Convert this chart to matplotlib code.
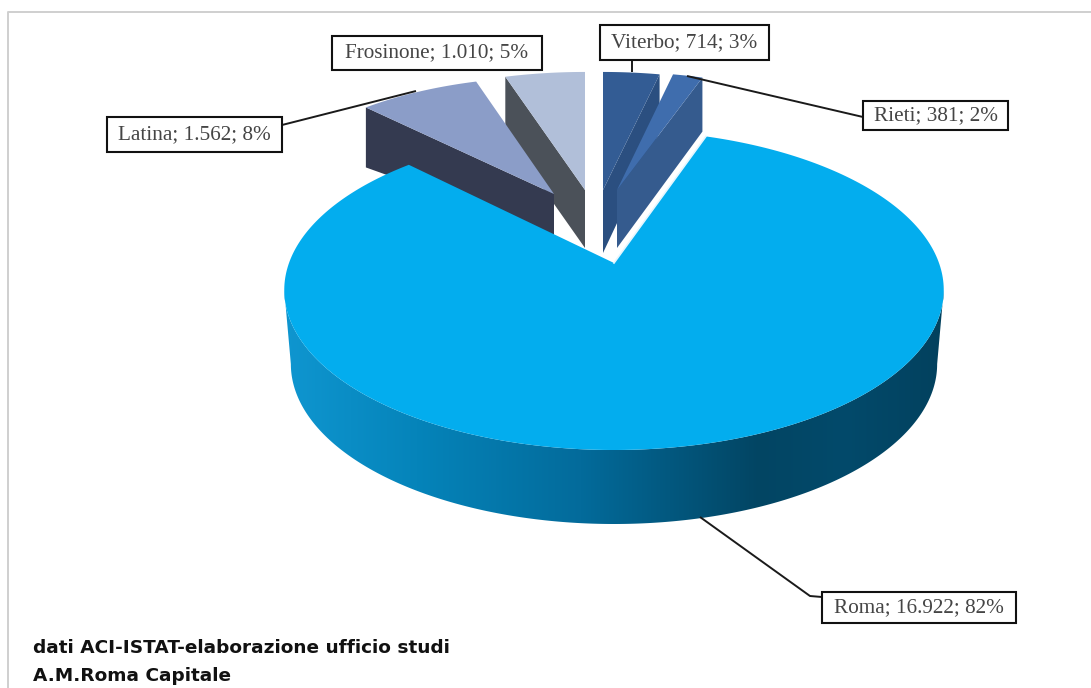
import numpy as np
import matplotlib
matplotlib.use('Agg')
import matplotlib.pyplot as plt
from matplotlib.colors import LinearSegmentedColormap
from matplotlib.patches import Polygon, Rectangle

# dati del grafico
province = ['Viterbo', 'Rieti', 'Roma', 'Latina', 'Frosinone']
valori = [714, 381, 16922, 1562, 1010]
fonte = ['dati ACI-ISTAT-elaborazione ufficio studi', 'A.M.Roma Capitale']

# aspetto delle fette: vertice, semiassi, spessore, colori
vertici = {'Viterbo': (603, 190), 'Rieti': (617, 190), 'Roma': (614, 263),
           'Latina': (554, 194), 'Frosinone': (585, 190)}
semiassi = {'Viterbo': (305, 138), 'Rieti': (302, 138), 'Roma': (325, 155.4),
            'Latina': (298, 137), 'Frosinone': (305, 138)}
spessore = {'Viterbo': 58, 'Rieti': 54, 'Roma': 74, 'Latina': 60, 'Frosinone': 58}
spessore_vertice = {'Viterbo': 63, 'Rieti': 58, 'Latina': 41, 'Frosinone': 58}
col_sopra = {'Viterbo': '#335c94', 'Rieti': '#3f6dad', 'Roma': '#03adee',
             'Latina': '#8b9dc8', 'Frosinone': '#b1bfd9'}
col_lato = {'Viterbo': '#2b4f80', 'Rieti': '#355b8e', 'Latina': '#343a50',
            'Frosinone': '#4b5159'}
K = 0.169  # prospettiva

# angoli delle fette, in senso orario dall'alto
totale = sum(valori)
angoli = {}
a = 0.0
for nome, v in zip(province, valori):
    angoli[nome] = (a, a + 360.0 * v / totale)
    a += 360.0 * v / totale


def punto(nome, gradi, dy=0.0, scala=1.0):
    t = np.radians(gradi)
    d = 1 + K * np.cos(t)
    cx, cy = vertici[nome]
    ra, rb = semiassi[nome]
    return cx + scala * ra * np.sin(t) / d, cy + dy - rb * np.cos(t) / d


def arco(nome):
    a0, a1 = angoli[nome]
    return punto(nome, np.linspace(a0, a1, 300))


def etichetta(nome):
    v = valori[province.index(nome)]
    return '%s; %s; %d%%' % (nome, f'{v:,}'.replace(',', '.'), round(100 * v / totale))


fig = plt.figure(figsize=(10.91, 6.88), dpi=100)
ax = fig.add_axes([0, 0, 1, 1])
ax.set_xlim(0, 1091)
ax.set_ylim(688, 0)
ax.axis('off')

# cornice: solo sopra e a sinistra
ax.plot([8, 8, 1091], [688, 12, 12], color='#cfcfcf', lw=1.4, zorder=1)

# fette piccole: prima il lato tagliato, poi la faccia superiore
lato_visibile = {'Viterbo': 1, 'Rieti': 1, 'Latina': 0, 'Frosinone': 0}
for z, nome in enumerate(['Frosinone', 'Latina', 'Viterbo', 'Rieti']):
    x, y = arco(nome)
    cx, cy = vertici[nome]
    i = -1 if lato_visibile[nome] else 0
    ax.add_patch(Polygon([(x[i], y[i]), (cx, cy), (cx, cy + spessore_vertice[nome]),
                          (x[i], y[i] + spessore[nome])],
                         fc=col_lato[nome], ec='none', zorder=2 + z))
    ax.add_patch(Polygon(np.r_[np.c_[x, y], [[cx, cy]]], fc=col_sopra[nome], ec='none',
                         zorder=2 + z))

# bordo della fetta grande con sfumatura: solo la meta' davanti
davanti = np.linspace(np.degrees(np.arccos(-K)), 360 - np.degrees(np.arccos(-K)), 300)
xa, ya = punto('Roma', davanti)
xb, yb = punto('Roma', davanti, spessore['Roma'], 0.98)
bordo = Polygon(np.r_[np.c_[xa, ya], np.c_[xb, yb][::-1]], fc='none', ec='none', zorder=7)
ax.add_patch(bordo)
sfumatura = LinearSegmentedColormap.from_list('bordo', [
    (0.0, '#0f96d0'), (0.2, '#0584ba'), (0.45, '#036b9b'), (0.72, '#024563'),
    (0.85, '#034a6b'), (1.0, '#02415e')])
im = ax.imshow(np.linspace(0, 1, 256)[None, :], extent=(284, 944, 688, 0), aspect='auto',
               cmap=sfumatura, zorder=7)
im.set_clip_path(bordo)
ax.set_xlim(0, 1091)
ax.set_ylim(688, 0)

# faccia superiore di Roma
x, y = arco('Roma')
cx, cy = vertici['Roma']
ax.add_patch(Polygon(np.r_[np.c_[x, y], [[cx, cy]]], fc=col_sopra['Roma'], ec='none', zorder=8))
ax.plot([cx, x[0]], [cy, y[0]], color='#e4f6ff', lw=1.2, zorder=8.5)

# linee guida
linee = [([632, 632], [60, 72]),
         ([687, 863], [76, 117]),
         ([282, 416], [125, 91]),
         ([700, 810, 822], [517, 596, 597])]
for lx, ly in linee:
    ax.plot(lx, ly, color='#1a1a1a', lw=1.4, zorder=9, solid_capstyle='butt')

# etichette: casella (x0, y0, x1, y1)
caselle = {'Viterbo': (600, 25, 769, 60), 'Rieti': (863, 101, 1008, 130),
           'Roma': (822, 592, 1016, 623), 'Latina': (107, 117, 282, 152),
           'Frosinone': (332, 36, 542, 70)}
for nome, (x0, y0, x1, y1) in caselle.items():
    ax.add_patch(Rectangle((x0, y0), x1 - x0, y1 - y0, fc='white', ec='#111111', lw=1.5, zorder=10))
    ax.text((x0 + x1) / 2, (y0 + y1) / 2, etichetta(nome), ha='center', va='center',
            family='Liberation Serif', fontsize=15.3, color='#454545', zorder=11)

# fonte
for riga, ty in zip(fonte, [648, 676]):
    ax.text(33, ty, riga, ha='left', va='center', family='DejaVu Sans', weight='bold',
            fontsize=13.3, color='#111111', zorder=10)

fig.savefig('out.png', dpi=100)
